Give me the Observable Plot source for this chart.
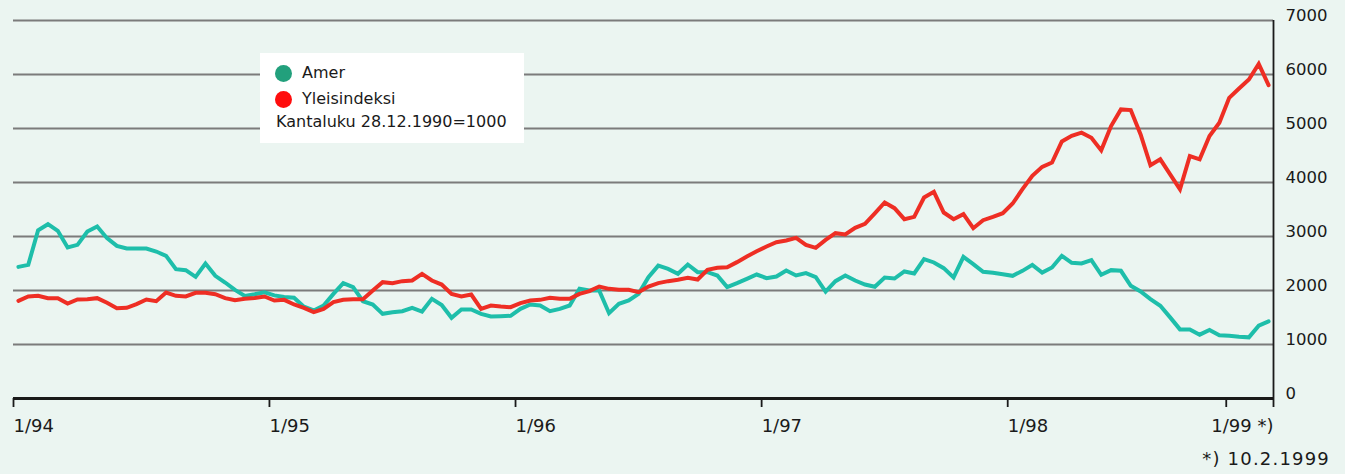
<!DOCTYPE html>
<html>
<head>
<meta charset="utf-8">
<script src="https://cdn.jsdelivr.net/npm/d3@7"></script>
<script src="https://cdn.jsdelivr.net/npm/@observablehq/plot@0.6"></script>
<style>
  html, body { margin: 0; padding: 0; background: #ebf5f1; }
  #wrap { position: relative; width: 1345px; height: 474px; font-family: "DejaVu Sans", sans-serif; color: #1a1a1a; }
  #legend { position: absolute; left: 260px; top: 53px; width: 264px; height: 90px; background: #ffffff; }
  .lrow { position: absolute; font-size: 16px; line-height: 20px; white-space: nowrap; }
  .dot { position: absolute; width: 17px; height: 17px; border-radius: 50%; }
  #foot { position: absolute; right: 15px; top: 449px; font-size: 18px; line-height: 20px; letter-spacing: 1.2px; white-space: nowrap; }
</style>
</head>
<body>
<div id="wrap"></div>
<script>
const seriesNames = ["Amer", "Yleisindeksi"];
const lineColors = ["#1ebeaa", "#ee2e24"];
const legendColors = ["#22a07c", "#ff0d0d"];
const baseNote = "Kantaluku 28.12.1990=1000";
const footNote = "*) 10.2.1999";

const amer = [
  2438, 2475, 3117, 3228, 3105, 2796, 2846, 3093, 3185, 2969,
  2827, 2778, 2778, 2778, 2722, 2642, 2395, 2377, 2253, 2500,
  2272, 2148, 2010, 1900, 1930, 1965, 1910, 1880, 1865, 1700,
  1630, 1720, 1938, 2136, 2062, 1802, 1741, 1568, 1599, 1617,
  1679, 1611, 1846, 1730, 1494, 1648, 1648, 1568, 1519, 1525,
  1531, 1660, 1741, 1722, 1617, 1660, 1722, 2031, 2000, 2000,
  1580, 1753, 1815, 1938, 2247, 2460, 2401, 2309, 2481, 2340,
  2340, 2278, 2062, 2136, 2216, 2296, 2228, 2259, 2370, 2278,
  2321, 2247, 1981, 2173, 2278, 2185, 2111, 2070, 2241, 2222,
  2352, 2315, 2580, 2519, 2414, 2241, 2623, 2488, 2346, 2327,
  2302, 2272, 2364, 2475, 2333, 2426, 2642, 2512, 2500, 2562,
  2291, 2377, 2365, 2088, 1983, 1841, 1718, 1502, 1280, 1280,
  1182, 1268, 1170, 1163, 1145, 1133, 1348, 1428
];
const yleis = [
  1809, 1889, 1901, 1858, 1858, 1759, 1833, 1840, 1858, 1772,
  1673, 1679, 1747, 1833, 1802, 1963, 1901, 1889, 1957, 1957,
  1932, 1858, 1820, 1846, 1860, 1889, 1815, 1827, 1741, 1679,
  1599, 1660, 1784, 1827, 1840, 1840, 2000, 2154, 2136, 2173,
  2185, 2309, 2185, 2110, 1938, 1889, 1926, 1660, 1722, 1704,
  1691, 1765, 1815, 1827, 1864, 1846, 1846, 1938, 1988, 2074,
  2031, 2012, 2012, 1969, 2074, 2136, 2173, 2198, 2235, 2204,
  2383, 2420, 2432, 2525, 2630, 2728, 2815, 2895, 2926, 2975,
  2846, 2790, 2938, 3062, 3037, 3160, 3235, 3430, 3630, 3525,
  3321, 3364, 3722, 3827, 3444, 3321, 3414, 3154, 3302, 3364,
  3432, 3611, 3877, 4123, 4290, 4370, 4759, 4864, 4922, 4829,
  4595, 5045, 5353, 5341, 4891, 4318, 4429, 4152, 3874, 4490,
  4429, 4860, 5107, 5569, 5741, 5908, 6197, 5803
];

// x positions of month ticks, measured in observation index
const xTickPos = [-0.5, 25.5, 50.5, 75.5, 100.5, 122.7, 127.5];
const xTickLabels = ["1/94", "1/95", "1/96", "1/97", "1/98", "", ""];
const endLabel = "1/99 *)";
const yTicks = [0, 1000, 2000, 3000, 4000, 5000, 6000, 7000];

// ---- build rows ----
const amerRows = amer.map((v, i) => ({i, value: v, series: seriesNames[0]}));
const yleisRows = yleis.map((v, i) => ({i, value: v, series: seriesNames[1]}));
const labelMap = new Map(xTickPos.map((p, k) => [p, xTickLabels[k]]));
const xEnd = xTickPos[xTickPos.length - 1];

const chart = Plot.plot({
  width: 1345,
  height: 474,
  marginLeft: 13,
  marginRight: 72,
  marginTop: 20,
  marginBottom: 76,
  style: {background: "transparent", fontFamily: "DejaVu Sans, sans-serif", color: "#1a1a1a"},
  x: {type: "linear", domain: [xTickPos[0], xEnd], label: null},
  y: {domain: [0, 7000], label: null},
  marks: [
    Plot.gridY(yTicks.filter(d => d > 0), {stroke: "#7b7b7b", strokeOpacity: 1, strokeWidth: 1.8}),
    Plot.line(amerRows, {x: "i", y: "value", stroke: lineColors[0], strokeWidth: 4, strokeLinejoin: "miter", strokeMiterlimit: 3}),
    Plot.line(yleisRows, {x: "i", y: "value", stroke: lineColors[1], strokeWidth: 4, strokeLinejoin: "miter", strokeMiterlimit: 3}),
    Plot.ruleX([xEnd], {stroke: "#1a1a1a", strokeWidth: 1.8}),
    Plot.ruleY([0], {stroke: "#1a1a1a", strokeWidth: 3}),
    Plot.axisX(xTickPos, {
      anchor: "bottom", tickSize: 9, tickPadding: 12, strokeWidth: 1.8,
      tickFormat: d => labelMap.get(d), textAnchor: "start", fontSize: 18, label: null
    }),
    Plot.axisX([xEnd], {
      anchor: "bottom", tickSize: 0, tickPadding: 21,
      tickFormat: () => endLabel, textAnchor: "end", fontSize: 18, label: null
    }),
    Plot.axisY(yTicks, {
      anchor: "right", tickSize: 0, tickPadding: 12, dy: -5, fontSize: 16.5, label: null,
      tickFormat: d => String(d)
    })
  ]
});

const wrap = document.getElementById("wrap");
wrap.appendChild(chart);

// ---- legend overlay ----
const legend = document.createElement("div");
legend.id = "legend";
seriesNames.forEach((name, k) => {
  const dot = document.createElement("div");
  dot.className = "dot";
  dot.style.background = legendColors[k];
  dot.style.left = "15px";
  dot.style.top = (12 + k * 25.5) + "px";
  legend.appendChild(dot);
  const t = document.createElement("div");
  t.className = "lrow";
  t.textContent = name;
  t.style.left = "42px";
  t.style.top = (10 + k * 25.5) + "px";
  legend.appendChild(t);
});
const n = document.createElement("div");
n.className = "lrow";
n.textContent = baseNote;
n.style.left = "16px";
n.style.top = "59px";
legend.appendChild(n);
wrap.appendChild(legend);

const foot = document.createElement("div");
foot.id = "foot";
foot.textContent = footNote;
wrap.appendChild(foot);
</script>
</body>
</html>
